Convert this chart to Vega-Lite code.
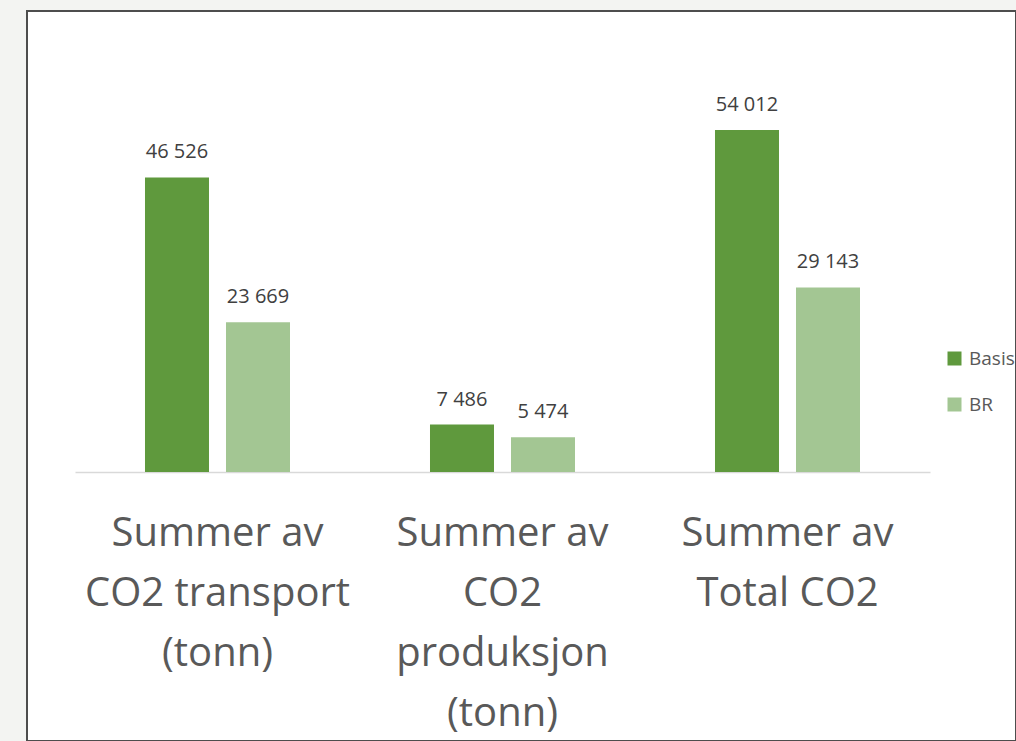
{
  "$schema": "https://vega.github.io/schema/vega-lite/v6.json",
  "autosize": {"type": "none"},
  "padding": {"left": 27, "top": 11, "right": 0, "bottom": 0},
  "width": 989,
  "height": 730,
  "background": "#f3f4f2",
  "data": {
    "values": [
      {"category": "Summer av CO2 transport (tonn)", "series": "Basis", "value": 46526},
      {"category": "Summer av CO2 transport (tonn)", "series": "BR", "value": 23669},
      {"category": "Summer av CO2 produksjon (tonn)", "series": "Basis", "value": 7486},
      {"category": "Summer av CO2 produksjon (tonn)", "series": "BR", "value": 5474},
      {"category": "Summer av Total CO2", "series": "Basis", "value": 54012},
      {"category": "Summer av Total CO2", "series": "BR", "value": 29143}
    ]
  },
  "encoding": {
    "x": {
      "field": "category",
      "type": "nominal",
      "sort": null,
      "scale": {"range": [48, 903], "paddingInner": 0, "paddingOuter": 0},
      "axis": {
        "title": null,
        "orient": "bottom",
        "offset": -269,
        "ticks": false,
        "tickSize": 0,
        "labelAngle": 0,
        "labelPadding": 73,
        "labelBaseline": "alphabetic",
        "labelFont": "Open Sans",
        "labelFontSize": 40,
        "labelColor": "#595959",
        "labelLineHeight": 60,
        "labelLimit": 0,
        "domainColor": "#d9d9d9",
        "domainWidth": 1.5,
        "grid": false,
        "labelExpr": "datum.label == 'Summer av CO2 transport (tonn)' ? ['Summer av', 'CO2 transport', '(tonn)'] : datum.label == 'Summer av CO2 produksjon (tonn)' ? ['Summer av', 'CO2', 'produksjon', '(tonn)'] : ['Summer av', 'Total CO2']"
      }
    },
    "xOffset": {
      "field": "series",
      "type": "nominal",
      "sort": ["Basis", "BR"],
      "scale": {"paddingInner": 0.21, "paddingOuter": 0.864}
    },
    "y": {
      "field": "value",
      "type": "quantitative",
      "scale": {"domain": [0, 54012], "range": [461, 119], "nice": false, "zero": true},
      "axis": null
    }
  },
  "layer": [
    {
      "mark": {"type": "bar"},
      "encoding": {
        "color": {
          "field": "series",
          "type": "nominal",
          "sort": ["Basis", "BR"],
          "scale": {"domain": ["Basis", "BR"], "range": ["#5f993d", "#a3c693"]},
          "legend": {
            "title": null,
            "orient": "none",
            "legendX": 918,
            "legendY": 338,
            "padding": 0,
            "symbolType": "square",
            "symbolSize": 196,
            "symbolStrokeWidth": 0,
            "symbolOpacity": 1,
            "labelFont": "Open Sans",
            "labelFontSize": 19,
            "labelColor": "#595959",
            "labelOffset": 5,
            "rowPadding": 26
          }
        }
      }
    },
    {
      "mark": {
        "type": "text",
        "baseline": "alphabetic",
        "dy": -19,
        "font": "Open Sans",
        "fontSize": 20,
        "color": "#404040"
      },
      "encoding": {
        "text": {"field": "value", "type": "quantitative", "format": ","}
      }
    }
  ],
  "config": {
    "view": {"fill": "white", "stroke": "#4d4d4d", "strokeWidth": 2},
    "locale": {
      "number": {"decimal": ",", "thousands": " ", "grouping": [3], "currency": ["", " kr"]}
    }
  }
}
